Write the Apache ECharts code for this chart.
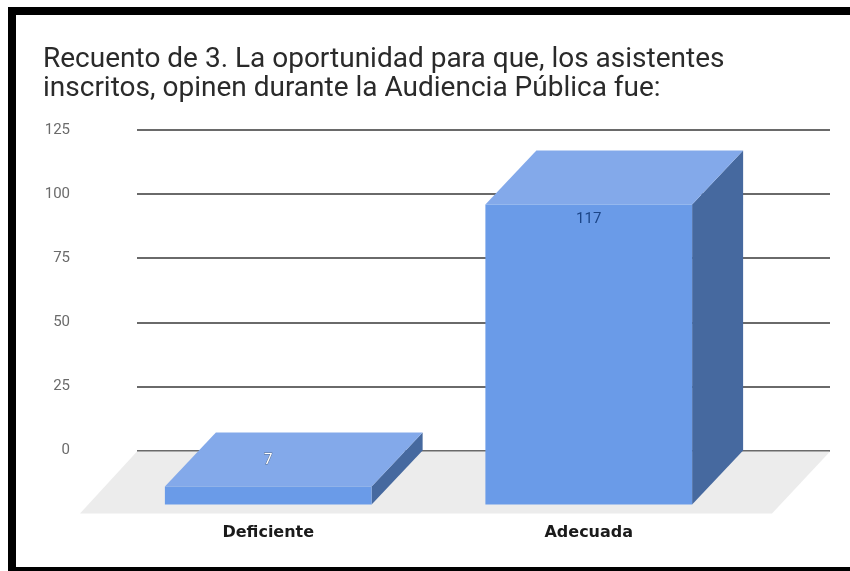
<!DOCTYPE html>
<html>
<head>
<meta charset="utf-8">
<style>html,body{margin:0;padding:0;background:#fff}#c{width:850px;height:571px}</style>
<script src="https://cdn.jsdelivr.net/npm/echarts@6/dist/echarts.min.js"></script>
</head>
<body>
<div id="c"></div>
<script>
const titleText = 'Recuento de 3. La oportunidad para que, los asistentes\ninscritos, opinen durante la Audiencia Pública fue:';
const categories = ['Deficiente', 'Adecuada'];
const values = [7, 117];
const yTicks = [0, 25, 50, 75, 100, 125];
const floorSpan = [[0, 1]];

const DEPTH_X = 51, DEPTH_Y = 54, BAR_RATIO = 0.645;
const C_FRONT = '#6a9be8', C_TOP = '#83a9ea', C_SIDE = '#46699f';

const chart = echarts.init(document.getElementById('c'), null, {renderer: 'canvas'});

function renderFloor(params, api) {
  const a = api.coord([api.value(0), 0]);
  const b = api.coord([api.value(1), 0]);
  return {
    type: 'polygon', silent: true,
    shape: {points: [[a[0], a[1] + 1], [b[0], b[1] + 1], [b[0] - 58, b[1] + 63], [a[0] - 57, a[1] + 63]]},
    style: {fill: '#ececec'}
  };
}

function renderBar(params, api) {
  const v = api.value(1);
  const top = api.coord([api.value(0), v]);
  const base = api.coord([api.value(0), 0]);
  const w = api.size([1, 0])[0] * BAR_RATIO;
  const x0 = top[0] - w / 2, x1 = top[0] + w / 2;
  const fTop = top[1] + DEPTH_Y, fBase = base[1] + DEPTH_Y;
  const small = fBase - fTop < 40;
  return {
    type: 'group',
    children: [
      {type: 'polygon', shape: {points: [[x1, fTop], [x1 + DEPTH_X, top[1]], [x1 + DEPTH_X, base[1]], [x1, fBase]]}, style: {fill: C_SIDE}},
      {type: 'polygon', shape: {points: [[x0, fTop], [x0 + DEPTH_X, top[1]], [x1 + DEPTH_X, top[1]], [x1, fTop]]}, style: {fill: C_TOP}},
      {type: 'rect', shape: {x: x0, y: fTop, width: w, height: fBase - fTop}, style: {fill: C_FRONT}},
      {type: 'text', style: {
        x: top[0], y: small ? fTop - 26 : fTop + 15, text: String(v),
        align: 'center', verticalAlign: 'middle',
        font: '15px Roboto',
        fill: small ? '#ffffff' : '#1c4587',
        stroke: small ? '#5a6f8f' : null, lineWidth: small ? 1 : 0
      }}
    ]
  };
}

chart.setOption({
  animation: false,
  backgroundColor: '#ffffff',
  title: {
    text: titleText, left: 38, top: 40,
    textStyle: {fontFamily: 'Roboto', fontSize: 28, fontWeight: 400, color: '#2a2a2a', lineHeight: 29}
  },
  grid: [
    {left: 137, top: 130, width: 693, height: 320.5},
    {left: 108, top: 130, width: 641, height: 320.5}
  ],
  xAxis: [
    {type: 'value', gridIndex: 0, min: 0, max: 1, show: false},
    {type: 'category', gridIndex: 1, data: categories,
     axisLine: {show: false}, axisTick: {show: false},
     axisLabel: {margin: 74, fontFamily: 'DejaVu Sans', fontWeight: 'bold', fontSize: 16, color: '#1a1a1a'}}
  ],
  yAxis: [
    {type: 'value', gridIndex: 0, min: yTicks[0], max: yTicks[yTicks.length - 1], interval: 25,
     axisLine: {show: false}, axisTick: {show: false},
     axisLabel: {margin: 67, fontFamily: 'Roboto', fontSize: 15, color: '#6b6b6b'},
     splitLine: {show: true, lineStyle: {color: '#6a6a6a', width: 2}}},
    {type: 'value', gridIndex: 1, min: yTicks[0], max: yTicks[yTicks.length - 1], interval: 25, show: false}
  ],
  graphic: [
    {type: 'rect', left: 8, top: 7, shape: {width: 842, height: 8}, style: {fill: '#000'}},
    {type: 'rect', left: 8, top: 7, shape: {width: 8, height: 564}, style: {fill: '#000'}},
    {type: 'rect', left: 8, top: 567, shape: {width: 842, height: 4}, style: {fill: '#000'}}
  ],
  series: [
    {type: 'custom', xAxisIndex: 0, yAxisIndex: 0, data: floorSpan, renderItem: renderFloor, encode: {x: [0, 1]}, silent: true, z: 1},
    {type: 'custom', xAxisIndex: 1, yAxisIndex: 1, data: values.map((v, i) => [i, v]), renderItem: renderBar, encode: {x: 0, y: 1}, z: 2, clip: false}
  ]
});
</script>
</body>
</html>
